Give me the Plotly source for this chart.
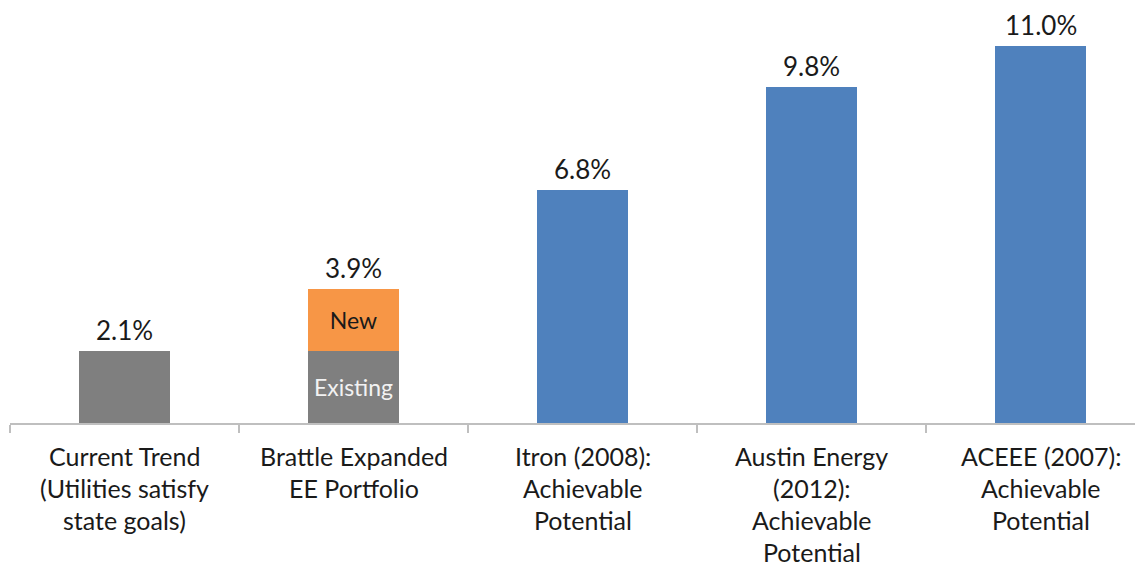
import plotly.graph_objects as go

categories = [
    ["Current Trend", "(Utilities satisfy", "state goals)"],
    ["Brattle Expanded", "EE Portfolio"],
    ["Itron (2008):", "Achievable", "Potential"],
    ["Austin Energy", "(2012):", "Achievable", "Potential"],
    ["ACEEE (2007):", "Achievable", "Potential"],
]
gray_values = [2.1, 2.1]          # Current Trend, Brattle existing
new_values = [1.8]                # Brattle new
blue_values = [6.8, 9.8, 11.0]    # Itron, Austin, ACEEE
totals = [2.1, 3.9, 6.8, 9.8, 11.0]
segment_labels = ["", "Existing"]

FONT = "Lato, Calibri, Carlito, sans-serif"
idx = list(range(len(categories)))

M_T, M_B = 4, 154
PLOT_H = 569 - M_T - M_B

fig = go.Figure()
fig.add_trace(go.Bar(
    x=idx[:2], y=gray_values, marker=dict(color="#7F7F7F", line=dict(width=0)),
    width=0.4, text=segment_labels, textposition="inside", insidetextanchor="middle",
    textfont=dict(family=FONT, size=23, color="#F2F2F2"), hoverinfo="skip",
))
fig.add_trace(go.Bar(
    x=[1], y=new_values, marker=dict(color="#F79646", line=dict(width=0)),
    width=0.4, text=["New"], textposition="inside", insidetextanchor="middle",
    textfont=dict(family=FONT, size=23, color="#1A1A1A"), hoverinfo="skip",
))
fig.add_trace(go.Bar(
    x=idx[2:], y=blue_values, marker=dict(color="#4F81BD", line=dict(width=0)),
    width=0.4, hoverinfo="skip",
))

annotations = []
for i, t in enumerate(totals):
    annotations.append(dict(
        x=i, y=t, xref="x", yref="y", text=f"{t:.1f}%", showarrow=False,
        yanchor="bottom", yshift=3, font=dict(family=FONT, size=26, color="#1A1A1A"),
    ))
for i, lines in enumerate(categories):
    for j, line in enumerate(lines):
        annotations.append(dict(
            x=i, y=-(33 + j * 32) / PLOT_H, xref="x", yref="paper", text=line,
            showarrow=False, yanchor="middle",
            font=dict(family=FONT, size=25, color="#1A1A1A"),
        ))

fig.update_layout(
    barmode="stack",
    width=1143, height=569,
    margin=dict(l=2, r=8, t=M_T, b=M_B),
    paper_bgcolor="white", plot_bgcolor="white",
    showlegend=False,
    annotations=annotations,
    xaxis=dict(
        range=[-0.5, -0.5 + 1133 / 229], tickvals=idx, ticktext=[""] * 5,
        ticks="", showgrid=False, zeroline=False,
        showline=True, linecolor="#BFBFBF", linewidth=1.5,
        minor=dict(tick0=-0.5, dtick=1, ticks="outside", ticklen=8,
                   tickcolor="#BFBFBF", tickwidth=1.5, showgrid=False),
    ),
    yaxis=dict(range=[0, 12], visible=False, showgrid=False, zeroline=False),
)

fig.write_html("out.html")
